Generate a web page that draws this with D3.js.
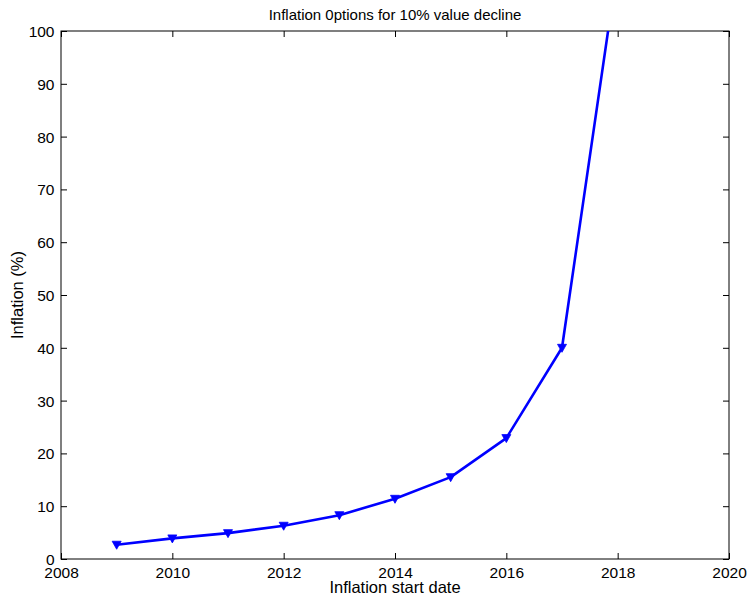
<!DOCTYPE html>
<html>
<head>
<meta charset="utf-8">
<script src="https://cdn.jsdelivr.net/npm/d3@7"></script>
<style>
  body { margin: 0; background: #fff; }
  svg text { font-family: "Liberation Sans", Arial, sans-serif; fill: #000; }
</style>
</head>
<body>
<div id="chart"></div>
<script>
// data
const years = [2009, 2010, 2011, 2012, 2013, 2014, 2015, 2016, 2017, 2018];
const inflation = [2.7, 3.9, 4.9, 6.3, 8.3, 11.4, 15.5, 22.9, 40.0, 112.5];
const xTicks = [2008, 2010, 2012, 2014, 2016, 2018, 2020];
const yTicks = [0, 10, 20, 30, 40, 50, 60, 70, 80, 90, 100];

const width = 747, height = 596;
const margin = { top: 31, right: 18, bottom: 37, left: 61 };
const innerWidth = width - margin.left - margin.right;
const innerHeight = height - margin.top - margin.bottom;

const svg = d3.select("#chart")
  .append("svg")
  .attr("width", width)
  .attr("height", height);

const chart = svg.append("g")
  .attr("transform", `translate(${margin.left},${margin.top})`);

// scales
const x = d3.scaleLinear().domain([2008, 2020]).range([0, innerWidth]);
const y = d3.scaleLinear().domain([0, 100]).range([innerHeight, 0]);

// clip so the last segment runs off the top
svg.append("defs").append("clipPath").attr("id", "clip")
  .append("rect").attr("width", innerWidth).attr("height", innerHeight);

// axes (ticks point inward, mirrored on top/right like a box)
const tickLen = 6;
const styleAxis = g => {
  g.select(".domain").remove();
  g.selectAll("line").attr("stroke", "#000");
  g.selectAll("text").attr("font-size", "15.5px").attr("font-family", null);
};

chart.append("g")
  .attr("transform", `translate(0,${innerHeight})`)
  .call(d3.axisBottom(x).tickValues(xTicks).tickFormat(d3.format("d"))
    .tickSizeInner(-tickLen).tickSizeOuter(0))
  .call(styleAxis)
  .call(g => g.selectAll("text").attr("y", 8).attr("dy", "0.71em"));

chart.append("g")
  .call(d3.axisTop(x).tickValues(xTicks).tickFormat("")
    .tickSizeInner(-tickLen).tickSizeOuter(0))
  .call(styleAxis);

chart.append("g")
  .call(d3.axisLeft(y).tickValues(yTicks)
    .tickSizeInner(-tickLen).tickSizeOuter(0))
  .call(styleAxis)
  .call(g => g.selectAll("text").attr("x", -6.5).attr("dy", "0.36em"));

chart.append("g")
  .attr("transform", `translate(${innerWidth},0)`)
  .call(d3.axisRight(y).tickValues(yTicks).tickFormat("")
    .tickSizeInner(-tickLen).tickSizeOuter(0))
  .call(styleAxis);

// box
chart.append("rect")
  .attr("width", innerWidth)
  .attr("height", innerHeight)
  .attr("fill", "none")
  .attr("stroke", "#000")
  .attr("stroke-width", 1);

// line + markers
const data = years.map((yr, i) => ({ year: yr, value: inflation[i] }));

const plot = chart.append("g").attr("clip-path", "url(#clip)");

plot.append("path")
  .datum(data)
  .attr("fill", "none")
  .attr("stroke", "#0000ff")
  .attr("stroke-width", 2.6)
  .attr("stroke-linejoin", "round")
  .attr("d", d3.line().x(d => x(d.year)).y(d => y(d.value)));

plot.selectAll("path.marker")
  .data(data)
  .join("path")
  .attr("class", "marker")
  .attr("transform", d => `translate(${x(d.year)},${y(d.value)})`)
  .attr("d", "M-4.5,-3.5L4.5,-3.5L0,4.5Z")
  .attr("fill", "#0000ff")
  .attr("stroke", "#0000ff")
  .attr("stroke-width", 0.8);

// title and axis labels
svg.append("text")
  .attr("x", margin.left + innerWidth / 2)
  .attr("y", 19.5)
  .attr("text-anchor", "middle")
  .attr("font-size", "15px")
  .text("Inflation 0ptions for 10% value decline");

svg.append("text")
  .attr("x", margin.left + innerWidth / 2)
  .attr("y", 593)
  .attr("text-anchor", "middle")
  .attr("font-size", "16.5px")
  .text("Inflation start date");

svg.append("text")
  .attr("x", -(margin.top + innerHeight / 2))
  .attr("y", 23)
  .attr("text-anchor", "middle")
  .attr("font-size", "16.5px")
  .attr("transform", "rotate(-90)")
  .text("Inflation (%)");
</script>
</body>
</html>
